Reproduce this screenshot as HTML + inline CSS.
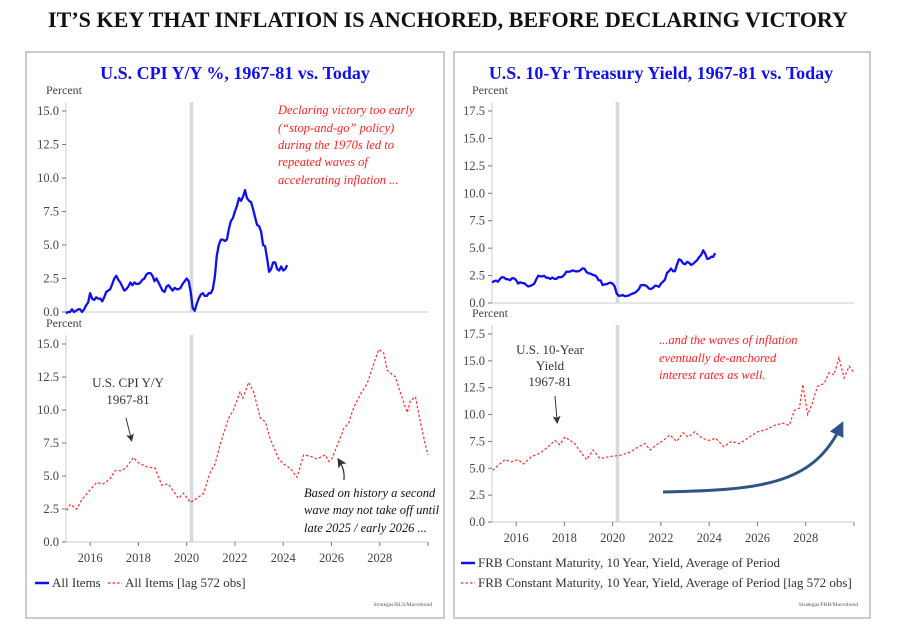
<!DOCTYPE html>
<html><head><meta charset="utf-8"><style>
html,body{margin:0;padding:0;background:#fff;}
svg{display:block;font-family:"Liberation Serif",serif;}
</style></head><body>
<svg id="s" width="913" height="632" viewBox="0 0 913 632" xmlns="http://www.w3.org/2000/svg">
<text x="448" y="27" text-anchor="middle" font-size="22" font-weight="bold" textLength="800" lengthAdjust="spacingAndGlyphs" fill="#111">IT’S KEY THAT INFLATION IS ANCHORED, BEFORE DECLARING VICTORY</text>
<rect x="26" y="52" width="418" height="566" fill="none" stroke="#aaa" stroke-width="1.2"/>
<rect x="454" y="52" width="416" height="566" fill="none" stroke="#aaa" stroke-width="1.2"/>
<text x="235" y="79" text-anchor="middle" font-size="18" font-weight="bold" fill="#1010ee">U.S. CPI Y/Y %, 1967-81 vs. Today</text>
<text x="661" y="79" text-anchor="middle" font-size="18" font-weight="bold" fill="#1010ee">U.S. 10-Yr Treasury Yield, 1967-81 vs. Today</text>
<g id="g"></g>
</svg>
<script>
// ---- data ----
const cpiNowStart = 2015;
const cpiNow = [-0.1,0.0,0.0,0.2,0.0,0.1,0.2,0.2,0.0,0.2,0.5,0.7,
1.4,1.0,0.9,1.1,1.0,1.0,0.8,1.1,1.5,1.6,1.7,2.1,
2.5,2.7,2.4,2.2,1.9,1.6,1.7,1.9,2.2,2.0,2.2,2.1,
2.1,2.2,2.4,2.5,2.8,2.9,2.9,2.7,2.3,2.5,2.2,1.9,
1.6,1.5,1.9,2.0,1.8,1.6,1.8,1.7,1.7,1.8,2.1,2.3,
2.5,2.3,1.5,0.3,0.1,0.6,1.0,1.3,1.4,1.2,1.2,1.4,
1.4,1.7,2.6,4.2,5.0,5.4,5.4,5.3,5.4,6.2,6.8,7.0,
7.5,7.9,8.5,8.3,8.6,9.1,8.5,8.3,8.2,7.7,7.1,6.5,
6.4,6.0,5.0,4.9,4.0,3.0,3.2,3.7,3.7,3.2,3.1,3.4,
3.1,3.2,3.5];
const yldNow = [1.88,1.98,2.04,1.94,2.20,2.36,2.32,2.17,2.17,2.07,2.26,2.24,
2.09,1.78,1.89,1.81,1.81,1.64,1.50,1.56,1.63,1.76,2.14,2.49,
2.43,2.42,2.48,2.30,2.30,2.19,2.32,2.21,2.20,2.36,2.35,2.40,
2.58,2.86,2.84,2.87,2.98,2.91,2.89,2.89,3.00,3.15,3.12,2.83,
2.71,2.68,2.57,2.53,2.40,2.07,2.06,1.63,1.70,1.71,1.81,1.86,
1.76,1.50,0.87,0.66,0.67,0.73,0.62,0.65,0.68,0.79,0.87,0.93,
1.08,1.26,1.61,1.64,1.62,1.52,1.32,1.28,1.37,1.58,1.56,1.47,
1.76,1.93,2.13,2.75,2.90,3.14,2.90,2.90,3.52,3.98,3.89,3.62,
3.53,3.75,3.66,3.46,3.57,3.75,3.90,4.17,4.38,4.80,4.50,4.02,
4.06,4.21,4.21,4.54];
const cpiLagYears = [2015.03,2015.17,2015.44,2015.65,2016.07,2016.27,2016.55,2016.83,2017.03,2017.31,2017.52,2017.79,2018.0,2018.35,2018.69,2018.97,2019.24,2019.66,2019.87,2020.15,2020.42,2020.70,2020.98,2021.18,2021.39,2021.74,2021.94,2022.22,2022.33,2022.57,2022.77,2023.05,2023.26,2023.46,2023.81,2024.02,2024.29,2024.57,2024.85,2025.12,2025.40,2025.75,2025.88,2026.02,2026.30,2026.51,2026.71,2026.92,2027.20,2027.48,2027.75,2027.96,2028.17,2028.31,2028.65,2028.93,2029.14,2029.27,2029.48,2029.68,2029.89,2030.0];
const cpiLag = [2.4,2.85,2.5,3.2,4.1,4.5,4.4,4.8,5.4,5.4,5.7,6.4,6.0,5.7,5.6,4.3,4.4,3.3,3.7,3.0,3.3,3.7,5.3,5.9,7.4,9.4,10.0,11.4,10.9,12.1,11.4,9.4,9.1,7.8,6.3,5.9,5.6,4.9,6.6,6.5,6.3,6.6,6.1,6.3,7.6,8.6,9.0,10.2,11.2,12.0,13.5,14.6,14.3,13.0,12.5,10.9,9.8,10.7,11.0,9.1,7.4,6.6];
const yldLagYears = [2015.03,2015.26,2015.54,2015.81,2016.09,2016.30,2016.64,2016.99,2017.33,2017.61,2017.81,2018.02,2018.23,2018.43,2018.71,2018.92,2019.19,2019.47,2019.88,2020.30,2020.72,2020.99,2021.34,2021.55,2021.82,2022.10,2022.37,2022.65,2022.92,2023.13,2023.40,2023.71,2023.99,2024.27,2024.61,2024.91,2025.25,2025.66,2026.01,2026.36,2026.71,2027.05,2027.32,2027.53,2027.74,2027.88,2028.08,2028.28,2028.48,2028.76,2028.97,2029.17,2029.38,2029.59,2029.80,2029.99];
const yldLag = [4.8,5.3,5.8,5.6,5.8,5.4,6.1,6.4,7.0,7.6,7.2,7.9,7.6,7.3,6.4,5.8,6.7,5.9,6.1,6.2,6.5,6.9,7.3,6.7,7.2,7.6,8.1,7.5,8.3,7.9,8.4,7.8,7.6,7.8,7.0,7.5,7.3,7.9,8.4,8.6,9.0,9.2,9.0,10.4,10.6,12.8,10.0,11.1,12.6,12.9,13.9,13.7,15.3,13.4,14.5,13.9];
const cpiTicks = [0,2.5,5,7.5,10,12.5,15];
const yldTicks = [0,2.5,5,7.5,10,12.5,15,17.5];
const yearTicks = [2016,2018,2020,2022,2024,2026,2028];
const recession = 2020.2;

const NS="http://www.w3.org/2000/svg";
const g=document.getElementById('g');
function el(t,a,txt){const e=document.createElementNS(NS,t);for(const k in a)e.setAttribute(k,a[k]);if(txt!=null)e.textContent=txt;g.appendChild(e);return e;}

function axes(x0,x1,yTop,yBot,vmax,ticks,showYears,name){
  const sx=v=>x0+(v-2015)/15*(x1-x0);
  const sy=v=>yBot-v/vmax*(yBot-yTop);
  const band=el('rect',{x:sx(recession)-1.8,y:yTop-9,width:3.6,height:yBot-yTop+9,fill:'#d6d9de'});
  
  
  const ax=el('line',{x1:x0,y1:yTop-9,x2:x0,y2:yBot,stroke:'#ccc','stroke-width':1});
  
  
  const bx=el('line',{x1:x0,y1:yBot,x2:x1,y2:yBot,stroke:'#ccc','stroke-width':1});
  
  
  ticks.forEach(t=>{
    const y=sy(t);
    el('line',{x1:x0-4,y1:y,x2:x0,y2:y,stroke:'#777'});
    const lb=el('text',{x:x0-7,y:y+4,'text-anchor':'end','font-size':12.5,fill:'#444'},t.toFixed(1));
    
    
  });
  const pl=el('text',{x:x0-20,y:yTop-17,'font-size':12,fill:'#444'},'Percent');
  
  
  if(showYears){
    yearTicks.forEach(yr=>{
      el('line',{x1:sx(yr),y1:yBot,x2:sx(yr),y2:yBot+4,stroke:'#777'});
      const lb=el('text',{x:sx(yr),y:yBot+20,'text-anchor':'middle','font-size':12.5,fill:'#444'},String(yr));
      
      
    });
    el('line',{x1:x1,y1:yBot,x2:x1,y2:yBot+4,stroke:'#777'});
  }
  return {sx,sy};
}
function line(sc,xs,vs,style,name){
  const d=vs.map((v,i)=>(i?'L':'M')+sc.sx(xs[i]).toFixed(1)+','+sc.sy(v).toFixed(1)).join('');
  const p=el('path',Object.assign({d:d,fill:'none'},style));
  
  
}
const monthly=(arr)=>arr.map((_,i)=>cpiNowStart+i/12);
const solid={stroke:'#1010ee','stroke-width':2.3,'stroke-linejoin':'round'};
const dashed={stroke:'#ff2a2a','stroke-width':1.2,'stroke-dasharray':'2.5,2'};

const a1=axes(66,428,111,312,15,cpiTicks,false,'cpi-upper');
line(a1,monthly(cpiNow),cpiNow,solid,'cpi-all-items-line');
const a2=axes(66,428,344,542,15,cpiTicks,true,'cpi-lower');
line(a2,cpiLagYears,cpiLag,dashed,'cpi-lagged-line');
const a3=axes(492,854,111,303,17.5,yldTicks,false,'yield-upper');
line(a3,monthly(yldNow),yldNow,solid,'yield-line');
const a4=axes(492,854,334,522,17.5,yldTicks,true,'yield-lower');
line(a4,yldLagYears,yldLag,dashed,'yield-lagged-line');
</script>
<svg width="0" height="0" style="position:absolute"></svg>
<div style="position:absolute;left:0;top:0;width:913px;height:632px;pointer-events:none">
<svg width="913" height="632" style="font-family:'Liberation Serif',serif">
<defs>
<marker id="ah" markerWidth="8" markerHeight="8" refX="4" refY="4" orient="auto"><path d="M0,0 L8,4 L0,8 L2,4 z" fill="#333"/></marker>
<marker id="bh" markerWidth="5" markerHeight="5" refX="2.5" refY="2.5" orient="auto"><path d="M0,0 L5,2.5 L0,5 z" fill="#2f5485"/></marker>
</defs>
<g font-size="12.5" font-style="italic" fill="#ff2020">
<text x="278" y="114">Declaring victory too early</text>
<text x="278" y="132">(“stop-and-go” policy)</text>
<text x="278" y="149">during the 1970s led to</text>
<text x="278" y="166">repeated waves of</text>
<text x="278" y="184">accelerating inflation ...</text>
</g>
<g font-size="13" fill="#333" text-anchor="middle">
<text x="128" y="387">U.S. CPI Y/Y</text>
<text x="128" y="404">1967-81</text>
</g>
<path d="M126,418 L131,438" stroke="#333" stroke-width="1" fill="none" marker-end="url(#ah)"/>
<g font-size="12.5" font-style="italic" fill="#111">
<text x="304" y="497">Based on history a second</text>
<text x="304" y="514">wave may not take off until</text>
<text x="304" y="532">late 2025 / early 2026 ...</text>
</g>
<path d="M344,480 Q345,470 340,462" stroke="#1d2f4f" stroke-width="1.2" fill="none" marker-end="url(#ah)"/>
<g font-size="13" fill="#333">
<line x1="35" y1="583" x2="49" y2="583" stroke="#1010ee" stroke-width="2.5"/>
<text x="52" y="587">All Items</text>
<line x1="108" y1="583" x2="122" y2="583" stroke="#ff2a2a" stroke-width="1.2" stroke-dasharray="2.5,2"/>
<text x="125" y="587">All Items [lag 572 obs]</text>
</g>
<text x="432" y="606" text-anchor="end" font-size="5.5" fill="#555">Strategas/BLS/Macrobond</text>
<g font-size="13" fill="#333" text-anchor="middle">
<text x="550" y="354">U.S. 10-Year</text>
<text x="550" y="370">Yield</text>
<text x="550" y="386">1967-81</text>
</g>
<path d="M555,396 L557,420" stroke="#333" stroke-width="1" fill="none" marker-end="url(#ah)"/>
<g font-size="12.5" font-style="italic" fill="#ff2020">
<text x="659" y="344">...and the waves of inflation</text>
<text x="659" y="362">eventually de-anchored</text>
<text x="659" y="379">interest rates as well.</text>
</g>
<path d="M663,492 C760,490 812,485 840,428" stroke="#2f5485" stroke-width="3" fill="none" marker-end="url(#bh)"/>
<g font-size="13" fill="#333">
<line x1="461" y1="563" x2="475" y2="563" stroke="#1010ee" stroke-width="2.5"/>
<text x="478" y="567">FRB Constant Maturity, 10 Year, Yield, Average of Period</text>
<line x1="461" y1="583" x2="475" y2="583" stroke="#ff2a2a" stroke-width="1.2" stroke-dasharray="2.5,2"/>
<text x="478" y="587">FRB Constant Maturity, 10 Year, Yield, Average of Period [lag 572 obs]</text>
</g>
<text x="858" y="606" text-anchor="end" font-size="5.5" fill="#555">Strategas/FRB/Macrobond</text>
</svg>
</div>
</body></html>
